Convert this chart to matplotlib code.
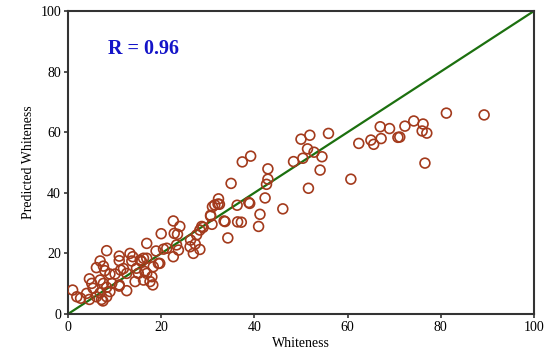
import matplotlib
matplotlib.use("Agg")
import matplotlib.pyplot as plt

# Datos: blancura medida vs. predicha
whiteness = [
    81.2, 89.3, 72.3, 74.2, 76.2, 76.0, 77.0, 76.6, 71.2,
    50.0, 51.9, 55.9, 51.4, 50.4, 48.4, 52.8, 54.5, 54.1, 51.6, 46.1,
    60.7, 62.4, 65.0, 65.6, 67.2, 67.0, 69.0, 70.8,
    39.2, 37.4, 42.9, 42.9, 42.6, 35.0, 32.3, 32.5, 31.5, 36.3, 38.8, 39.0,
    42.3, 30.6, 30.9, 29.0, 33.5, 37.2, 41.2, 40.9, 34.3,
    22.6, 24.0, 22.8, 23.5, 20.0, 28.7, 28.3, 27.6, 30.6, 31.0, 32.2,
    33.7, 36.4, 26.3, 27.3, 26.2, 28.3, 26.9, 23.3, 23.7, 22.6, 18.9,
    20.5, 16.9, 19.4, 18.3, 16.9, 15.8, 18.0, 16.5, 18.2,
    8.3, 11.0, 11.0, 6.9, 13.3, 13.9, 15.5, 16.2, 13.7, 6.1, 7.6, 7.9,
    11.3, 11.9, 9.0, 10.1, 12.6, 14.7, 15.1, 16.9,
    4.6, 5.1, 6.9, 7.6, 5.4, 8.3, 9.4, 11.0, 12.6, 14.4, 16.2, 17.6,
    1.0, 1.9, 2.7, 4.0, 4.6, 6.1, 6.9, 7.2, 7.5, 8.3, 9.0,
    21.2, 19.7, 11.0,
]
predicted = [
    66.3, 65.7, 62.0, 63.7, 62.7, 60.4, 59.7, 49.8, 58.4,
    57.7, 59.0, 59.6, 54.5, 51.4, 50.3, 53.4, 51.9, 47.5, 41.5, 34.7,
    44.5, 56.3, 57.4, 56.0, 57.9, 61.8, 61.2, 58.3,
    52.1, 50.2, 47.9, 44.5, 42.8, 43.1, 38.0, 36.2, 36.0, 35.9, 36.8, 36.5,
    38.3, 32.6, 29.6, 28.6, 30.7, 30.3, 32.9, 28.9, 25.1,
    30.7, 28.9, 26.6, 26.3, 26.5, 28.9, 27.7, 26.1, 32.3, 35.4, 36.3,
    30.5, 30.4, 24.4, 23.1, 22.2, 21.3, 20.0, 22.8, 21.1, 18.9, 20.8,
    21.4, 23.3, 16.7, 15.6, 18.4, 17.3, 12.3, 14.0, 9.6,
    20.9, 19.1, 17.6, 17.5, 20.0, 18.9, 17.8, 18.4, 17.5, 15.3, 15.8, 14.3,
    14.5, 15.0, 13.2, 13.2, 13.4, 15.1, 13.4, 13.4,
    11.6, 10.1, 11.2, 10.1, 8.5, 8.8, 10.1, 9.6, 7.7, 10.7, 11.2, 10.7,
    7.9, 5.7, 5.2, 6.8, 4.8, 5.7, 7.0, 4.8, 4.3, 5.7, 7.4,
    21.7, 16.7, 9.2,
]
ideal = [0, 100]
r_text = "R = 0.96"

plt.rcParams['font.family'] = ['Liberation Serif', 'DejaVu Serif']

fig = plt.figure(figsize=(5.5, 3.62), dpi=100)
ax = fig.add_axes([0.1236, 0.1326, 0.8473, 0.837])

ax.scatter(whiteness, predicted, s=50, facecolors='none', edgecolors='#a33a1c',
           linewidths=1.2, zorder=3)
ax.plot(ideal, ideal, color='#1c700f', linewidth=1.6, zorder=2)

ax.text(8.5, 87.5, r_text, color='#1414c8', fontsize=14.5, fontweight='bold',
        va='center')

ax.set_xlim(0, 100)
ax.set_ylim(0, 100)
ax.set_xticks([0, 20, 40, 60, 80, 100])
ax.set_yticks([0, 20, 40, 60, 80, 100])
ax.set_xlabel('Whiteness', fontsize=10, labelpad=2)
ax.set_ylabel('Predicted Whiteness', fontsize=10, labelpad=4)
ax.tick_params(labelsize=10, length=3, width=1.2, color='#333333', pad=2)
for s in ax.spines.values():
    s.set_linewidth(1.5)
    s.set_color('#333333')

fig.savefig('out.png', dpi=100)
